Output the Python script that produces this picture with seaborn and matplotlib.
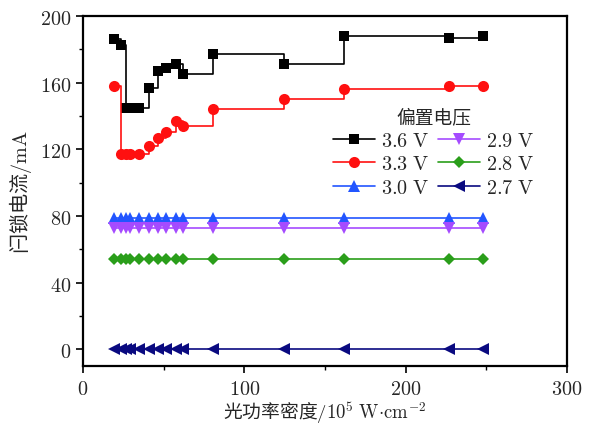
import matplotlib
matplotlib.use("Agg")
import matplotlib.pyplot as plt
import seaborn as sns
import numpy as np
from matplotlib.ticker import FuncFormatter, MultipleLocator

# ---- data ----
power_density = [19, 23.5, 26.5, 29, 35, 41, 46.5, 51.5, 57.5, 62, 80.5, 124.5, 161.5, 227, 248]
i_36 = [186, 182.5, 145, 145, 145, 157, 167, 169, 171, 165, 177, 171, 188, 187, 188]
i_33 = [158, 117, 117, 117, 117, 122, 127, 130.5, 137, 134, 144, 150, 156, 158, 158]
i_30 = [79] * 15
i_29 = [73] * 15
i_28 = [54] * 15
i_27 = [0] * 15
series_labels = ["3.6 V", "3.3 V", "3.0 V", "2.9 V", "2.8 V", "2.7 V"]
legend_title = "偏置电压"
x_label = "光功率密度"
y_label = "闩锁电流"

sns.set_theme(style="ticks")
plt.rcParams["font.family"] = ["Noto Sans CJK SC", "DejaVu Sans"]
plt.rcParams["mathtext.fontset"] = "cm"

fig = plt.figure(figsize=(5.95, 4.27), dpi=100)
ax = fig.add_axes([0.1395, 0.1405, 0.8135, 0.8195])

series = [i_36, i_33, i_30, i_29, i_28, i_27]
colors = ["#000000", "#FF1010", "#2255FF", "#A54BFF", "#2A9E1A", "#0A0A80"]
markers = ["s", "o", "^", "v", "D", "<"]
msizes = [7.5, 8, 8, 8, 6.5, 8]

for ys, c, m, ms, lab in zip(series, colors, markers, msizes, series_labels):
    sns.lineplot(x=power_density, y=ys, ax=ax, color=c, marker=m, markersize=ms,
                 markeredgewidth=0, drawstyle="steps-post", linewidth=1.2,
                 label=r"$\mathrm{" + lab.replace(" ", r"\ ") + "}$", sort=False,
                 estimator=None)

ax.set_xlim(0, 300)
ax.set_ylim(-10, 200)
ax.xaxis.set_major_locator(MultipleLocator(100))
ax.xaxis.set_minor_locator(MultipleLocator(50))
ax.yaxis.set_major_locator(MultipleLocator(40))
ax.yaxis.set_minor_locator(MultipleLocator(20))
fmt = FuncFormatter(lambda v, p: r"$%d$" % int(round(v)))
ax.xaxis.set_major_formatter(fmt)
ax.yaxis.set_major_formatter(fmt)
ax.tick_params(which="major", direction="out", length=5, width=1.2, labelsize=14.5, color="black")
ax.tick_params(which="minor", direction="out", length=3, width=1.0, color="black")
ax.tick_params(top=False, right=False)
for s in ax.spines.values():
    s.set_visible(True)
    s.set_linewidth(1.6)
    s.set_color("black")

ax.set_xlabel(x_label + r"$/10^5\ \mathrm{W{\cdot}cm}^{-2}$", fontsize=13.5, labelpad=0)
ax.set_ylabel(y_label + r"$/\mathrm{mA}$", fontsize=14.5, labelpad=4)

leg = ax.legend(ncol=2, loc="upper left", bbox_to_anchor=(0.5, 0.765), frameon=False,
                title=legend_title, fontsize=14.5, title_fontsize=13.5, handlelength=2.1,
                columnspacing=0.4, handletextpad=0.3, labelspacing=0.12, borderaxespad=0)
ax.grid(False)

fig.savefig("out.png", dpi=100)
